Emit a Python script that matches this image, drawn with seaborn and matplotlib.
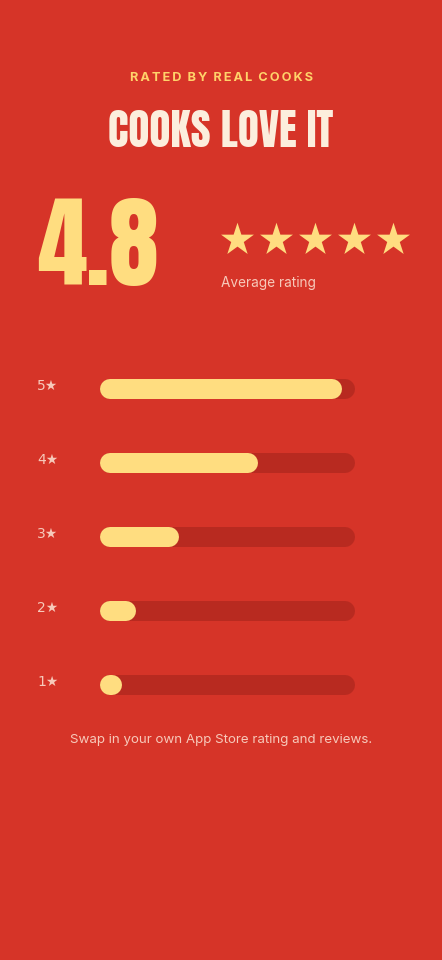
import matplotlib
matplotlib.use("Agg")
import matplotlib.pyplot as plt
import seaborn as sns
from matplotlib import font_manager
from matplotlib.patheffects import AbstractPathEffect
from matplotlib.transforms import Affine2D

BG = "#D63428"
TRACK = "#B82A20"
FILL = "#FFDD80"
CREAM = "#FCEEDD"
SOFT = "#F7C9BA"

# data
rating = 4.8
star_levels = ["5★", "4★", "3★", "2★", "1★"]
share_pct = [95, 62, 31, 14, 8]
n_stars = 5

sns.set_theme(style="white")
plt.rcParams["font.family"] = ["Inter", "DejaVu Sans"]
fonts = font_manager.fontManager.ttflist
names = {f.name for f in fonts}
HAS_ANTON = "Anton" in names
bold_work = any(f.name == "Work Sans" and f.weight in (600, 700, "bold", "semibold") for f in fonts)
KICKER = "Work Sans" if bold_work else "Inter"

W, H = 442, 960
fig = plt.figure(figsize=(W / 100, H / 100), dpi=100, facecolor=BG)

def px(x, y):
    return x / W, 1 - y / H


class Squeeze(AbstractPathEffect):
    """condense glyphs horizontally around a fixed x (display px)"""
    def __init__(self, sx, cx):
        super().__init__()
        self.sx, self.cx = sx, cx

    def draw_path(self, renderer, gc, tpath, affine, rgbFace=None):
        affine = affine + Affine2D().translate(-self.cx, 0).scale(self.sx, 1).translate(self.cx, 0)
        renderer.draw_path(gc, tpath, affine, rgbFace)


def display_kw(size_anton, size_dv, sx, cx):
    if HAS_ANTON:
        return dict(family="Anton", fontsize=size_anton)
    return dict(family="DejaVu Sans", fontweight="bold", fontsize=size_dv,
                path_effects=[Squeeze(sx, cx)])


# header
fig.text(*px(221, 78), "\u2009".join("RATED BY REAL COOKS").replace("\u2009 \u2009", "\u2009\u2009\u2009"),
         ha="center", va="center", color="#FFD36A", fontsize=9.2, fontweight="bold",
         family=[KICKER, "DejaVu Sans"])
fig.text(*px(221, 131), "COOKS LOVE IT", ha="center", va="center", color=CREAM,
         **display_kw(31, 37.5, 0.5, 221))
fig.text(*px(37, 248), f"{rating:.1f}", ha="left", va="center", color=FILL,
         **display_kw(72, 91, 0.58, 37))

# stars row
sax = fig.add_axes([218 / W, 1 - 262 / H, 195 / W, 44 / H])
sax.set_facecolor("none")
sns.scatterplot(x=list(range(n_stars)), y=[0] * n_stars, marker="*", s=620,
                color=FILL, edgecolor="none", ax=sax)
sax.set_xlim(-0.5, n_stars - 0.5)
sax.set_ylim(-1, 1)
sax.axis("off")
fig.text(*px(221, 283), "Average rating", ha="left", va="center", color=SOFT, fontsize=9.8)

# distribution bars (rounded via round caps)
ax = fig.add_axes([100 / W, 1 - 722 / H, 255 / W, 370 / H])
ax.set_facecolor("none")
ax.set_xlim(0, 100)
ax.set_ylim(len(star_levels) - 0.5, -0.5)
ax.axis("off")
bar_px = 20
lw_pt = bar_px * 72 / 100
r = (bar_px / 2) / (255 / 100)
for i, (lab, v) in enumerate(zip(star_levels, share_pct)):
    ax.plot([r, 100 - r], [i, i], color=TRACK, lw=lw_pt, solid_capstyle="round")
    ax.plot([r, max(v - r, r + 0.6)], [i, i], color=FILL, lw=lw_pt, solid_capstyle="round")
    ax.text(-63 / 2.55, i - 0.04, lab, ha="left", va="center", color=SOFT, fontsize=10,
            family=["DejaVu Sans"])

fig.text(*px(221, 740), "Swap in your own App Store rating and reviews.",
         ha="center", va="center", color=SOFT, fontsize=9.6)

fig.savefig("out.png", dpi=100, facecolor=BG)
